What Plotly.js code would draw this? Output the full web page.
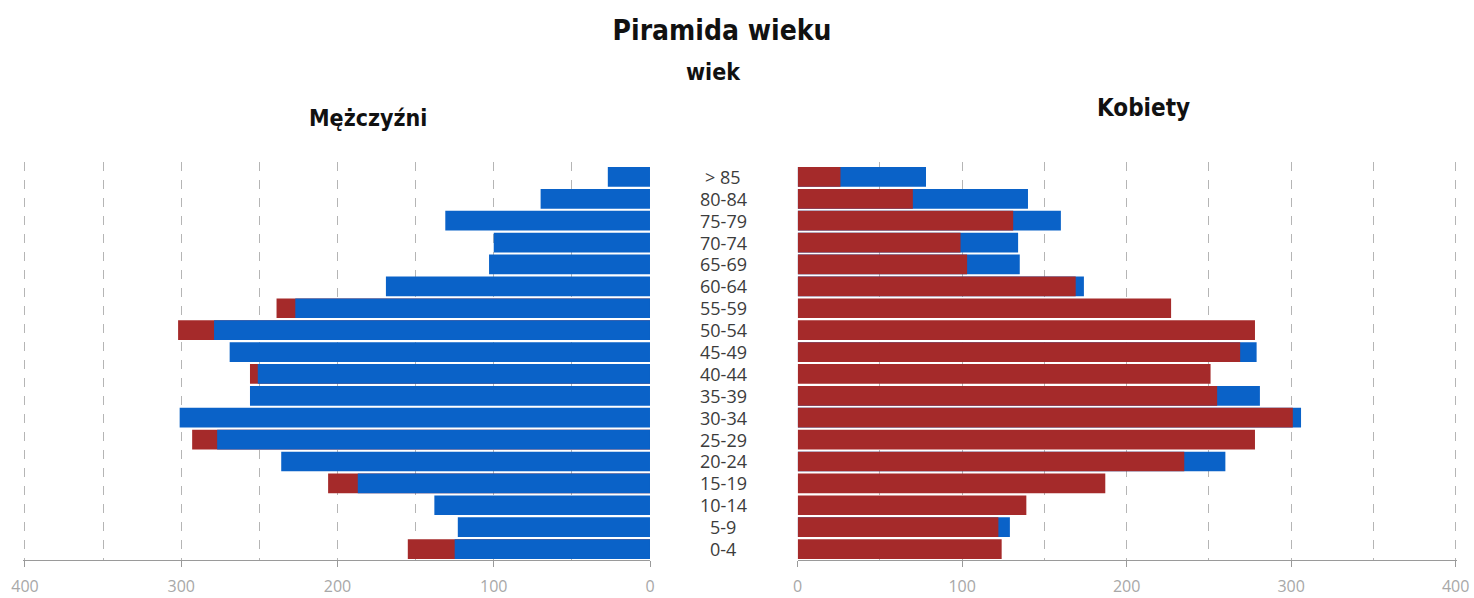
<!DOCTYPE html>
<html>
<head>
<meta charset="utf-8">
<script src="https://cdn.plot.ly/plotly-3.0.1.min.js"></script>
<style>html,body{margin:0;padding:0;background:#fff;}#chart{width:1474px;height:598px;}</style>
</head>
<body>
<div id="chart"></div>
<script>
// Age groups, bottom to top
const categories = ['0-4','5-9','10-14','15-19','20-24','25-29','30-34','35-39','40-44','45-49','50-54','55-59','60-64','65-69','70-74','75-79','80-84','> 85'];

// Left panel (Mężczyźni): blue bars in front, red bars behind (only visible parts read)
const leftBlue = [125, 123, 138, 187, 236, 277, 301, 256, 251, 269, 279, 227, 169, 103, 100, 131, 70, 27];
const leftRed  = [155, null, null, 206, null, 293, null, null, 256, null, 302, 239, null, null, null, null, null, null];

// Right panel (Kobiety): red bars in front, blue bars behind (only visible parts read)
const rightRed  = [124, 122, 139, 187, 235, 278, 301, 255, 251, 269, 278, 227, 169, 103, 99, 131, 70, 26];
const rightBlue = [null, 129, null, null, 260, null, 306, 281, null, 279, null, null, 174, 135, 134, 160, 140, 78];

const titleText = 'Piramida wieku';
const subTitle = 'wiek';
const leftTitle = 'Mężczyźni';
const rightTitle = 'Kobiety';

const BLUE = '#0a62c8';
const RED = '#a52a2a';
const condensed = "'Liberation Sans Narrow', 'DejaVu Sans Condensed', 'Arial Narrow', sans-serif";

function bar(x, color, xa) {
  return {type: 'bar', orientation: 'h', y: categories, x: x, xaxis: xa, yaxis: 'y',
          marker: {color: color, opacity: 1, line: {width: 0}}, hoverinfo: 'skip', showlegend: false};
}

const traces = [
  bar(leftRed, RED, 'x'),
  bar(leftBlue, BLUE, 'x'),
  bar(rightBlue, BLUE, 'x2'),
  bar(rightRed, RED, 'x2')
];

const W = 1474, H = 598, T = 162, B = 38;
const ph = H - T - B;
function py(pix) { return (H - B - pix) / ph; }

const axisCommon = {
  showline: true, linecolor: '#9a9a9a', linewidth: 1,
  ticks: 'outside', ticklen: 6, tickcolor: '#9a9a9a',
  dtick: 100, tick0: 0,
  showgrid: true, gridcolor: '#b5b5b5', griddash: 'dash', gridwidth: 1,
  minor: {dtick: 50, showgrid: true, gridcolor: '#b5b5b5', griddash: 'dash', gridwidth: 1, ticks: ''},
  zeroline: false, fixedrange: true,
  tickfont: {family: "'Open Sans', sans-serif", size: 16, color: '#a8a8a8'},
  ticklabelstandoff: 6,
  anchor: 'y'
};

const annotations = categories.map(c => ({
  text: c, xref: 'paper', yref: 'y', x: 723 / W, y: c, xanchor: 'center', yanchor: 'middle',
  showarrow: false, font: {family: "'Open Sans', sans-serif", size: 18, color: '#3c3c3c'}
}));

annotations.push(
  {text: '<b>' + subTitle + '</b>', xref: 'paper', yref: 'paper', x: 713 / W, y: py(72), xanchor: 'center', yanchor: 'middle',
   showarrow: false, font: {family: condensed, size: 23, color: '#111'}},
  {text: '<b>' + leftTitle + '</b>', xref: 'paper', yref: 'paper', x: 368 / W, y: py(118), xanchor: 'center', yanchor: 'middle',
   showarrow: false, font: {family: condensed, size: 23, color: '#111'}},
  {text: '<b>' + rightTitle + '</b>', xref: 'paper', yref: 'paper', x: 1143 / W, y: py(108), xanchor: 'center', yanchor: 'middle',
   showarrow: false, font: {family: condensed, size: 24, color: '#111'}}
);

const layout = {
  width: W, height: H,
  margin: {l: 0, r: 0, t: T, b: B, pad: 0},
  paper_bgcolor: '#fff', plot_bgcolor: '#fff',
  barmode: 'overlay', bargap: 0.1,
  title: {text: '<b>' + titleText + '</b>', x: 722 / W, xanchor: 'center', y: 1 - 30 / H, yanchor: 'middle',
          font: {family: condensed, size: 28, color: '#111'}},
  xaxis: Object.assign({}, axisCommon, {domain: [23.4 / W, 650 / W], range: [401, 0]}),
  xaxis2: Object.assign({}, axisCommon, {domain: [797.7 / W, 1457.3 / W], range: [0, 401]}),
  yaxis: {type: 'category', categoryorder: 'array', categoryarray: categories,
          range: [-0.5, 17.68], showticklabels: false, showgrid: false, showline: false,
          zeroline: false, ticks: '', fixedrange: true},
  annotations: annotations
};

Plotly.newPlot('chart', traces, layout, {displayModeBar: false, staticPlot: true});
</script>
</body>
</html>
